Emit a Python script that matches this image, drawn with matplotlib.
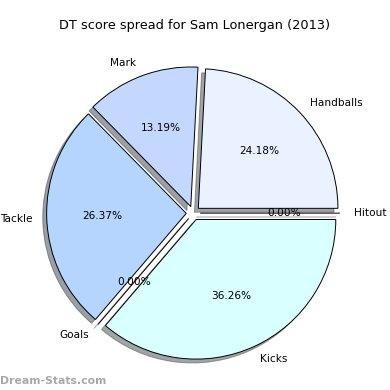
import matplotlib
matplotlib.use('Agg')
import matplotlib.pyplot as plt

# DT score spread values
labels = ['Hitout', 'Handballs', 'Mark', 'Tackle', 'Goals', 'Kicks']
values = [0, 22, 12, 24, 0, 33]
colors = ['#e0e8ff', '#eaf1ff', '#c4d8ff', '#b5d5ff', '#c0e0ff', '#d9ffff']
explode = [0.05] * len(values)

fig = plt.figure(figsize=(3.9, 3.9), dpi=100)
ax = fig.add_axes([0.048, 0.006, 0.895, 0.895])
wedges, texts, autotexts = ax.pie(values, labels=labels, colors=colors, explode=explode,
                                  autopct='%1.2f%%', shadow=True, startangle=0,
                                  wedgeprops={'edgecolor': 'black', 'linewidth': 0.7},
                                  textprops={'fontsize': 7.6})
ax.set_aspect('equal')
fig.suptitle('DT score spread for Sam Lonergan (2013)', fontsize=9.3, y=0.95)
fig.text(0.0, 0.015, 'Dream-Stats.com', fontsize=7.8, color='#a8a8a8', fontweight='bold')

plt.savefig('out.png', dpi=100)
